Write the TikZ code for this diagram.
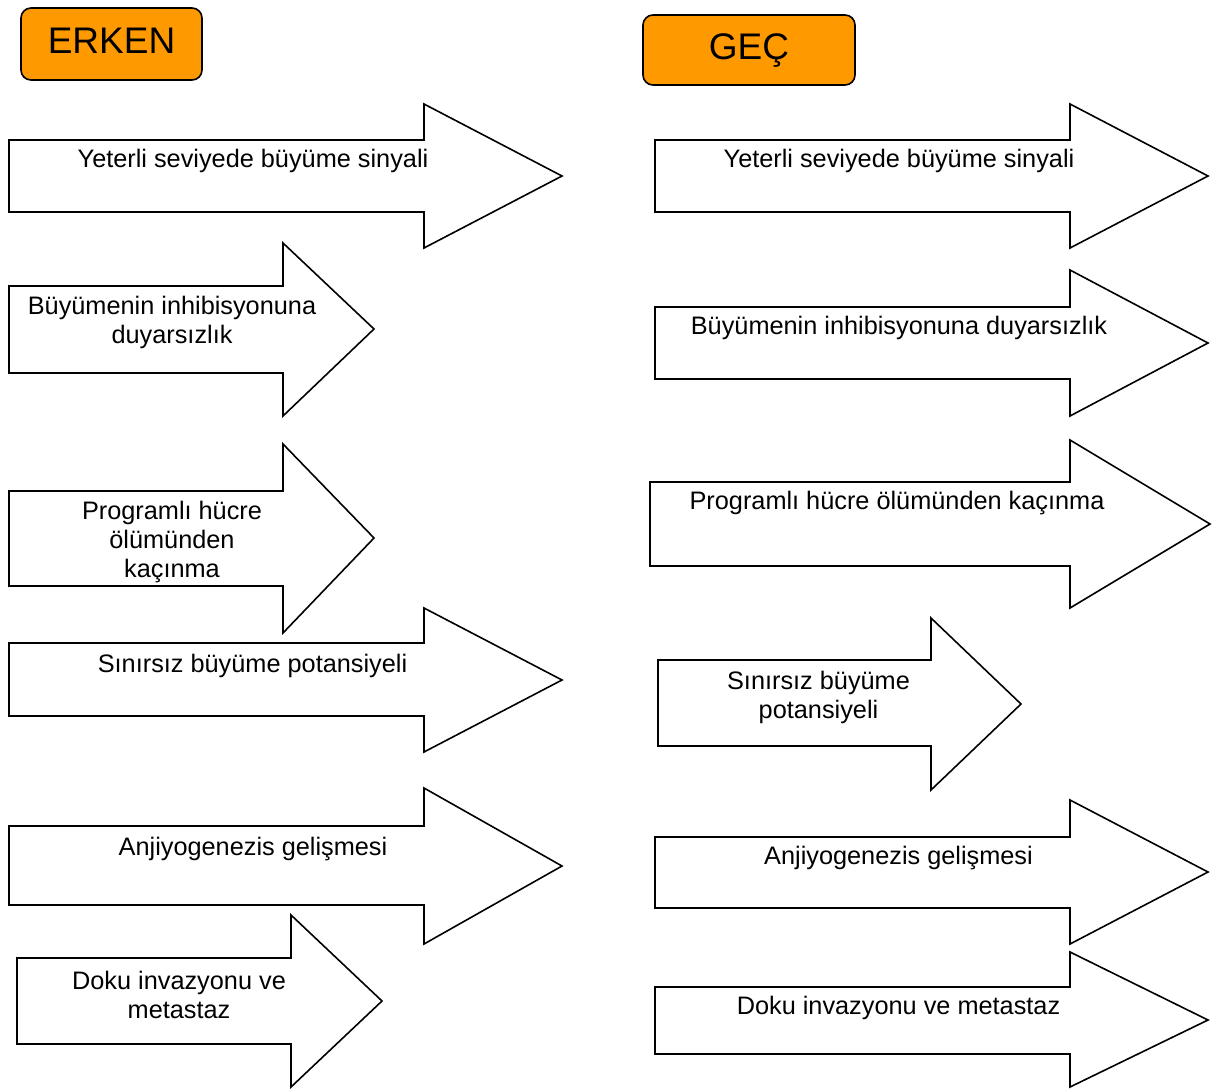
\documentclass[tikz,border=0pt]{standalone}
\usepackage{fontspec}
\setmainfont{Liberation Sans}
\definecolor{titleorange}{HTML}{FF9900}
\tikzset{
  arrowshape/.style={draw=black, fill=white, line width=1.6pt, line join=miter},
  arrowtext/.style={font=\fontsize{25.3}{29}\selectfont, align=center, inner sep=0pt},
  titlebox/.style={draw=black, fill=titleorange, line width=1.6pt, rounded corners=10pt,
    font=\fontsize{37}{40}\selectfont, text height=26.5pt, text depth=7pt, inner sep=0pt},
}
% x0 x1 xtip yShaftTop yShaftBot yHeadTop yHeadBot yTip
\newcommand\fatarrow[8]{%
  \draw[arrowshape] (#1,#4) -- (#2,#4) -- (#2,#6) -- (#3,#8) -- (#2,#7) -- (#2,#5) -- (#1,#5) -- cycle;}
\begin{document}
\begin{tikzpicture}[x=1pt,y=-1pt]
\useasboundingbox (0,0) rectangle (1218,1088);
\node[titlebox, minimum width=181pt, minimum height=72pt] (erken) at (111.5,44) {ERKEN};
\node[titlebox, minimum width=212pt, minimum height=70pt] (gec) at (749,50) {GEÇ};

% left column
\fatarrow{9}{424}{562}{140}{212}{104}{248}{176}
\fatarrow{9}{283}{374}{286}{373}{243}{416}{329}
\fatarrow{9}{283}{374}{491}{586}{444}{633}{538}
\fatarrow{9}{424}{562}{643}{716}{608}{752}{680}
\fatarrow{9}{424}{562}{826}{905}{788}{944}{866}
\fatarrow{17}{291}{382}{958}{1044}{915}{1087}{1001}
% right column
\fatarrow{655}{1070}{1208}{140}{212}{104}{248}{176}
\fatarrow{655}{1070}{1208}{307}{379}{270}{416}{343}
\fatarrow{650}{1070}{1210}{482}{566}{440}{608}{524}
\fatarrow{658}{931}{1021}{660}{746}{618}{790}{704}
\fatarrow{655}{1070}{1208}{837}{908}{800}{944}{872}
\fatarrow{655}{1070}{1208}{987}{1054}{952}{1087}{1020}

% left texts
\node[arrowtext] (l1) at (253,160.5) {Yeterli seviyede büyüme sinyali};
\node[arrowtext] (l2) at (172,322) {Büyümenin inhibisyonuna\\duyarsızlık};
\node[arrowtext] (l3) at (172,542.5) {Programlı hücre\\ölümünden\\kaçınma};
\node[arrowtext] (l4) at (252.5,665.5) {Sınırsız büyüme potansiyeli};
\node[arrowtext] (l5) at (253,848.5) {Anjiyogenezis gelişmesi};
\node[arrowtext] (l6) at (179,994.5) {Doku invazyonu ve\\metastaz};
% right texts
\node[arrowtext] (r1) at (899,160.5) {Yeterli seviyede büyüme sinyali};
\node[arrowtext] (r2) at (899,327.5) {Büyümenin inhibisyonuna duyarsızlık};
\node[arrowtext] (r3) at (897,503.5) {Programlı hücre ölümünden kaçınma};
\node[arrowtext] (r4) at (818.5,697) {Sınırsız büyüme\\potansiyeli};
\node[arrowtext] (r5) at (898.5,857.5) {Anjiyogenezis gelişmesi};
\node[arrowtext] (r6) at (898.5,1007.5) {Doku invazyonu ve metastaz};
\end{tikzpicture}
\end{document}
